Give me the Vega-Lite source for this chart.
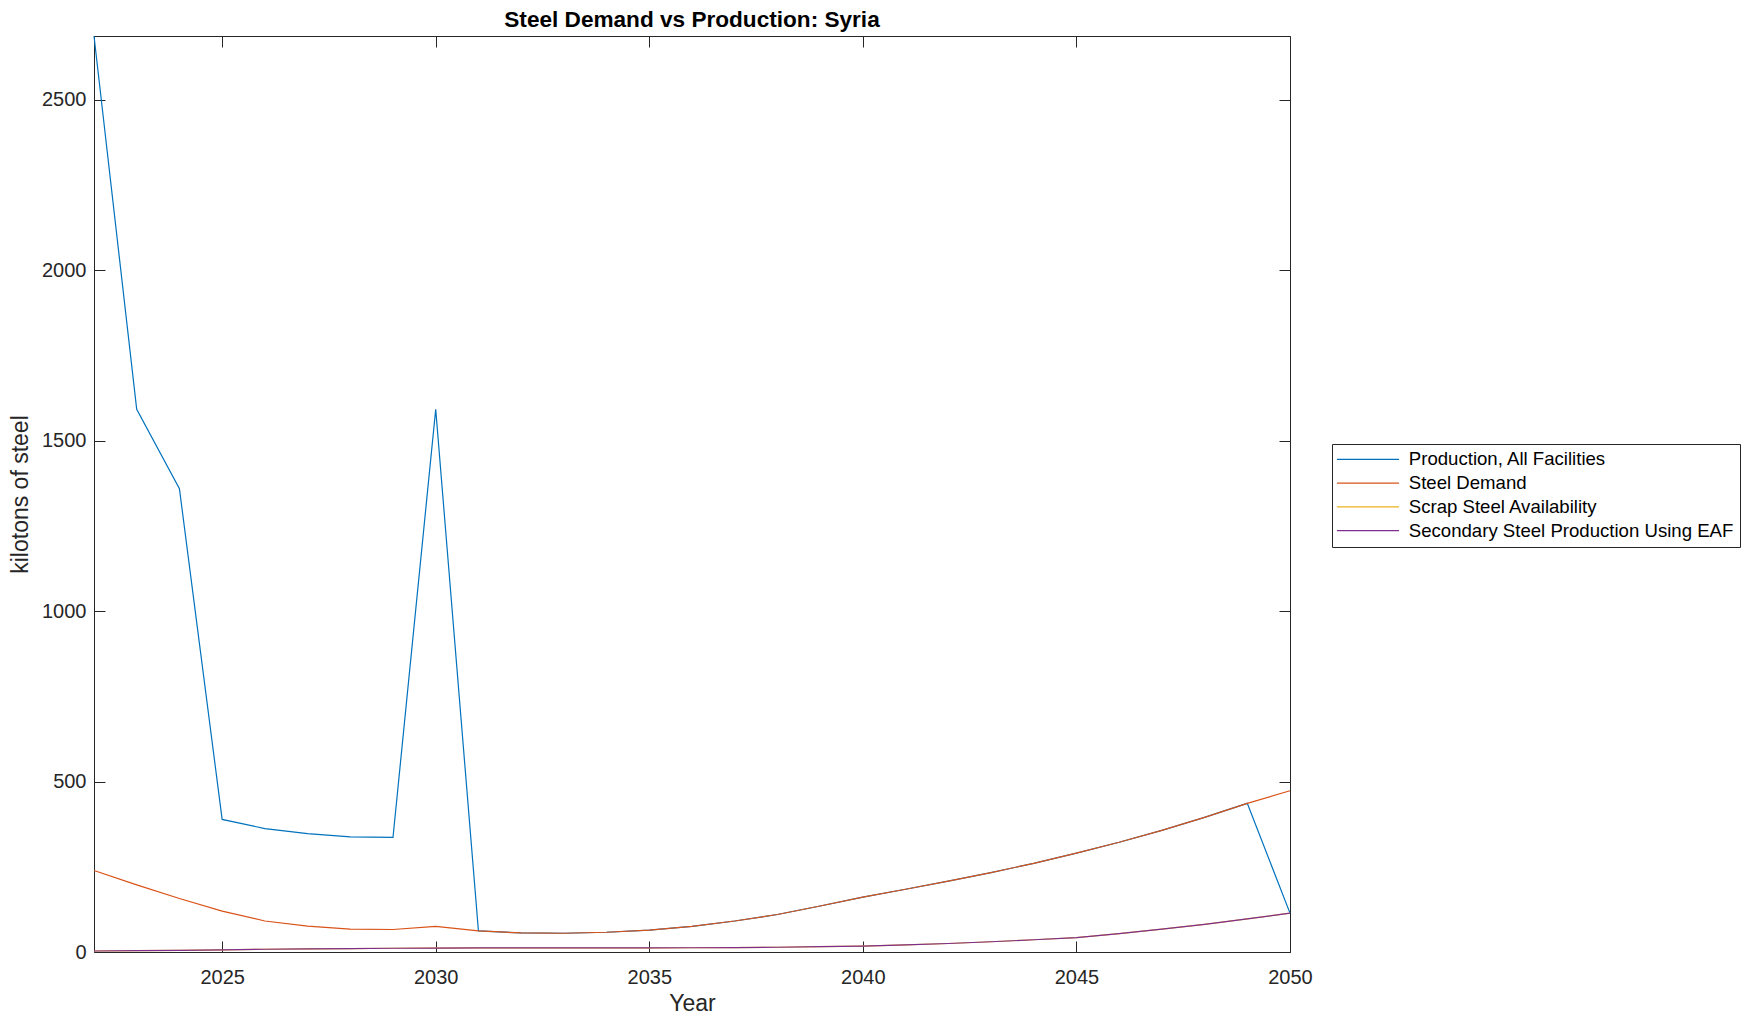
{
  "$schema": "https://vega.github.io/schema/vega-lite/v6.json",
  "width": 1196,
  "height": 916,
  "autosize": {"type": "none"},
  "padding": {"left": 94, "top": 36, "right": 466, "bottom": 69},
  "background": "white",
  "title": {"text": "Steel Demand vs Production: Syria", "font": "Liberation Sans", "fontSize": 22.6, "fontWeight": "bold", "color": "#000000", "anchor": "middle", "baseline": "alphabetic", "offset": -16, "frame": "group"},
  "config": {
    "view": {"stroke": null},
    "axis": {"labelFont": "Liberation Sans", "labelFontSize": 20, "labelColor": "#262626", "titleFont": "Liberation Sans", "titleFontSize": 23, "titleColor": "#262626", "titleFontWeight": "normal", "domainColor": "#262626", "tickColor": "#262626", "tickSize": -11, "grid": false, "domainWidth": 1, "tickWidth": 1, "labelFlush": false},
    "legend": {"orient": "none", "legendX": 1238, "legendY": 408, "title": null, "symbolType": "M-2,0H10", "symbolSize": 107, "symbolStrokeWidth": 1.2, "labelFont": "Liberation Sans", "labelFontSize": 18.6, "labelColor": "#000000", "labelLimit": 0, "strokeColor": "#262626", "fillColor": "white", "padding": 6, "rowPadding": 4.8, "labelOffset": 52.2}
  },
  "datasets": {
    "d": [
      {"year": 2022, "series": "Production, All Facilities", "value": 2687},
      {"year": 2023, "series": "Production, All Facilities", "value": 1592},
      {"year": 2024, "series": "Production, All Facilities", "value": 1359},
      {"year": 2025, "series": "Production, All Facilities", "value": 389},
      {"year": 2026, "series": "Production, All Facilities", "value": 362},
      {"year": 2027, "series": "Production, All Facilities", "value": 347},
      {"year": 2028, "series": "Production, All Facilities", "value": 338},
      {"year": 2029, "series": "Production, All Facilities", "value": 336},
      {"year": 2030, "series": "Production, All Facilities", "value": 1592},
      {"year": 2031, "series": "Production, All Facilities", "value": 62},
      {"year": 2032, "series": "Production, All Facilities", "value": 56},
      {"year": 2033, "series": "Production, All Facilities", "value": 55},
      {"year": 2034, "series": "Production, All Facilities", "value": 58},
      {"year": 2035, "series": "Production, All Facilities", "value": 64},
      {"year": 2036, "series": "Production, All Facilities", "value": 75},
      {"year": 2037, "series": "Production, All Facilities", "value": 91},
      {"year": 2038, "series": "Production, All Facilities", "value": 110},
      {"year": 2039, "series": "Production, All Facilities", "value": 135},
      {"year": 2040, "series": "Production, All Facilities", "value": 161},
      {"year": 2041, "series": "Production, All Facilities", "value": 184},
      {"year": 2042, "series": "Production, All Facilities", "value": 208},
      {"year": 2043, "series": "Production, All Facilities", "value": 233},
      {"year": 2044, "series": "Production, All Facilities", "value": 260},
      {"year": 2045, "series": "Production, All Facilities", "value": 290},
      {"year": 2046, "series": "Production, All Facilities", "value": 322},
      {"year": 2047, "series": "Production, All Facilities", "value": 357},
      {"year": 2048, "series": "Production, All Facilities", "value": 395},
      {"year": 2049, "series": "Production, All Facilities", "value": 436},
      {"year": 2050, "series": "Production, All Facilities", "value": 114},
      {"year": 2022, "series": "Steel Demand", "value": 239},
      {"year": 2023, "series": "Steel Demand", "value": 197},
      {"year": 2024, "series": "Steel Demand", "value": 157},
      {"year": 2025, "series": "Steel Demand", "value": 120},
      {"year": 2026, "series": "Steel Demand", "value": 91},
      {"year": 2027, "series": "Steel Demand", "value": 76},
      {"year": 2028, "series": "Steel Demand", "value": 67},
      {"year": 2029, "series": "Steel Demand", "value": 66},
      {"year": 2030, "series": "Steel Demand", "value": 75},
      {"year": 2031, "series": "Steel Demand", "value": 62},
      {"year": 2032, "series": "Steel Demand", "value": 56},
      {"year": 2033, "series": "Steel Demand", "value": 55},
      {"year": 2034, "series": "Steel Demand", "value": 58},
      {"year": 2035, "series": "Steel Demand", "value": 64},
      {"year": 2036, "series": "Steel Demand", "value": 75},
      {"year": 2037, "series": "Steel Demand", "value": 91},
      {"year": 2038, "series": "Steel Demand", "value": 110},
      {"year": 2039, "series": "Steel Demand", "value": 135},
      {"year": 2040, "series": "Steel Demand", "value": 161},
      {"year": 2041, "series": "Steel Demand", "value": 184},
      {"year": 2042, "series": "Steel Demand", "value": 208},
      {"year": 2043, "series": "Steel Demand", "value": 233},
      {"year": 2044, "series": "Steel Demand", "value": 260},
      {"year": 2045, "series": "Steel Demand", "value": 290},
      {"year": 2046, "series": "Steel Demand", "value": 322},
      {"year": 2047, "series": "Steel Demand", "value": 357},
      {"year": 2048, "series": "Steel Demand", "value": 395},
      {"year": 2049, "series": "Steel Demand", "value": 436},
      {"year": 2050, "series": "Steel Demand", "value": 473},
      {"year": 2022, "series": "Scrap Steel Availability", "value": 3},
      {"year": 2023, "series": "Scrap Steel Availability", "value": 4},
      {"year": 2024, "series": "Scrap Steel Availability", "value": 5},
      {"year": 2025, "series": "Scrap Steel Availability", "value": 6.5},
      {"year": 2026, "series": "Scrap Steel Availability", "value": 8},
      {"year": 2027, "series": "Scrap Steel Availability", "value": 9},
      {"year": 2028, "series": "Scrap Steel Availability", "value": 10},
      {"year": 2029, "series": "Scrap Steel Availability", "value": 11},
      {"year": 2030, "series": "Scrap Steel Availability", "value": 11.5},
      {"year": 2031, "series": "Scrap Steel Availability", "value": 12},
      {"year": 2032, "series": "Scrap Steel Availability", "value": 12},
      {"year": 2033, "series": "Scrap Steel Availability", "value": 12},
      {"year": 2034, "series": "Scrap Steel Availability", "value": 12},
      {"year": 2035, "series": "Scrap Steel Availability", "value": 12},
      {"year": 2036, "series": "Scrap Steel Availability", "value": 12.5},
      {"year": 2037, "series": "Scrap Steel Availability", "value": 13},
      {"year": 2038, "series": "Scrap Steel Availability", "value": 14},
      {"year": 2039, "series": "Scrap Steel Availability", "value": 15.5},
      {"year": 2040, "series": "Scrap Steel Availability", "value": 17.5},
      {"year": 2041, "series": "Scrap Steel Availability", "value": 21},
      {"year": 2042, "series": "Scrap Steel Availability", "value": 25},
      {"year": 2043, "series": "Scrap Steel Availability", "value": 30},
      {"year": 2044, "series": "Scrap Steel Availability", "value": 36},
      {"year": 2045, "series": "Scrap Steel Availability", "value": 42},
      {"year": 2046, "series": "Scrap Steel Availability", "value": 54},
      {"year": 2047, "series": "Scrap Steel Availability", "value": 67},
      {"year": 2048, "series": "Scrap Steel Availability", "value": 81},
      {"year": 2049, "series": "Scrap Steel Availability", "value": 97},
      {"year": 2050, "series": "Scrap Steel Availability", "value": 114},
      {"year": 2022, "series": "Secondary Steel Production Using EAF", "value": 3},
      {"year": 2023, "series": "Secondary Steel Production Using EAF", "value": 4},
      {"year": 2024, "series": "Secondary Steel Production Using EAF", "value": 5},
      {"year": 2025, "series": "Secondary Steel Production Using EAF", "value": 6.5},
      {"year": 2026, "series": "Secondary Steel Production Using EAF", "value": 8},
      {"year": 2027, "series": "Secondary Steel Production Using EAF", "value": 9},
      {"year": 2028, "series": "Secondary Steel Production Using EAF", "value": 10},
      {"year": 2029, "series": "Secondary Steel Production Using EAF", "value": 11},
      {"year": 2030, "series": "Secondary Steel Production Using EAF", "value": 11.5},
      {"year": 2031, "series": "Secondary Steel Production Using EAF", "value": 12},
      {"year": 2032, "series": "Secondary Steel Production Using EAF", "value": 12},
      {"year": 2033, "series": "Secondary Steel Production Using EAF", "value": 12},
      {"year": 2034, "series": "Secondary Steel Production Using EAF", "value": 12},
      {"year": 2035, "series": "Secondary Steel Production Using EAF", "value": 12},
      {"year": 2036, "series": "Secondary Steel Production Using EAF", "value": 12.5},
      {"year": 2037, "series": "Secondary Steel Production Using EAF", "value": 13},
      {"year": 2038, "series": "Secondary Steel Production Using EAF", "value": 14},
      {"year": 2039, "series": "Secondary Steel Production Using EAF", "value": 15.5},
      {"year": 2040, "series": "Secondary Steel Production Using EAF", "value": 17.5},
      {"year": 2041, "series": "Secondary Steel Production Using EAF", "value": 21},
      {"year": 2042, "series": "Secondary Steel Production Using EAF", "value": 25},
      {"year": 2043, "series": "Secondary Steel Production Using EAF", "value": 30},
      {"year": 2044, "series": "Secondary Steel Production Using EAF", "value": 36},
      {"year": 2045, "series": "Secondary Steel Production Using EAF", "value": 42},
      {"year": 2046, "series": "Secondary Steel Production Using EAF", "value": 54},
      {"year": 2047, "series": "Secondary Steel Production Using EAF", "value": 67},
      {"year": 2048, "series": "Secondary Steel Production Using EAF", "value": 81},
      {"year": 2049, "series": "Secondary Steel Production Using EAF", "value": 97},
      {"year": 2050, "series": "Secondary Steel Production Using EAF", "value": 114}
    ]
  },
  "data": {"name": "d"},
  "layer": [
    {
      "encoding": {
        "x": {"field": "year", "type": "quantitative", "scale": {"domain": [2022, 2050], "nice": false, "zero": false}, "axis": {"orient": "bottom", "values": [2025, 2030, 2035, 2040, 2045, 2050], "format": "d", "title": "Year", "labelPadding": 26, "titlePadding": 5}},
        "y": {"field": "value", "type": "quantitative", "scale": {"domain": [0, 2687], "nice": false, "zero": true}, "axis": {"orient": "left", "values": [0, 500, 1000, 1500, 2000, 2500], "format": "d", "title": "kilotons of steel", "labelPadding": 19, "titlePadding": 9}},
        "color": {"field": "series", "type": "nominal", "scale": {"domain": ["Production, All Facilities", "Steel Demand", "Scrap Steel Availability", "Secondary Steel Production Using EAF"], "range": ["#0072BD", "#D95319", "#EDB120", "#7E2F8E"]}}
      },
      "layer": [
        {"transform": [{"filter": "datum.series === 'Production, All Facilities'"}], "mark": {"type": "line", "strokeWidth": 1.2}},
        {"transform": [{"filter": "datum.series === 'Steel Demand'"}], "mark": {"type": "line", "strokeWidth": 1.2}},
        {"transform": [{"filter": "datum.series === 'Scrap Steel Availability'"}], "mark": {"type": "line", "strokeWidth": 1.2}},
        {"transform": [{"filter": "datum.series === 'Secondary Steel Production Using EAF'"}], "mark": {"type": "line", "strokeWidth": 1.2}}
      ]
    },
    {
      "transform": [{"filter": "datum.series === 'Steel Demand'"}],
      "mark": {"type": "line", "opacity": 0},
      "encoding": {
        "x": {"field": "year", "type": "quantitative", "scale": {"domain": [2022, 2050], "nice": false, "zero": false}, "axis": {"orient": "top", "values": [2025, 2030, 2035, 2040, 2045, 2050], "labels": false, "title": null}},
        "y": {"field": "value", "type": "quantitative", "scale": {"domain": [0, 2687], "nice": false, "zero": true}, "axis": {"orient": "right", "values": [0, 500, 1000, 1500, 2000, 2500], "labels": false, "title": null}}
      }
    }
  ],
  "resolve": {"scale": {"x": "independent", "y": "independent"}, "axis": {"x": "independent", "y": "independent"}}
}
